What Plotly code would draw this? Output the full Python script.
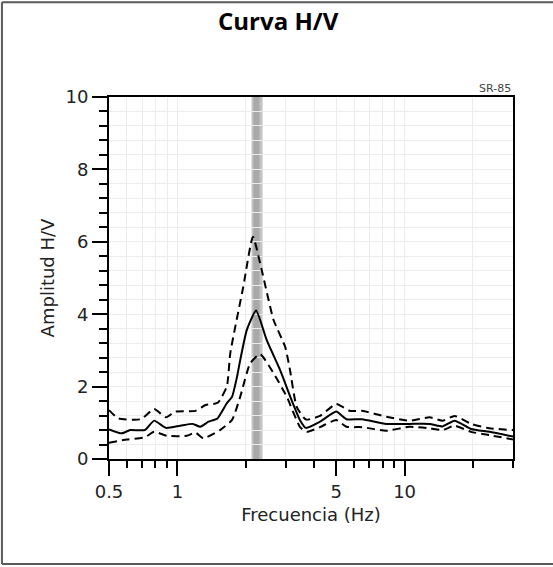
import plotly.graph_objects as go

# curva H/V promedio
freq_mean = [0.5, 0.57, 0.62, 0.72, 0.79, 0.89, 1.03, 1.17, 1.26, 1.37, 1.5, 1.65, 1.74, 1.83,
             1.89, 2.02, 2.22, 2.47, 2.83, 3.18, 3.46, 3.68, 4.24, 5.0, 5.55, 6.5, 8.3, 10.5,
             12.9, 14.7, 16.6, 19.6, 23.6, 30]
amp_mean = [0.82, 0.71, 0.80, 0.80, 1.06, 0.86, 0.92, 0.97, 0.89, 1.03, 1.12, 1.54, 1.72, 2.27,
            2.73, 3.56, 4.10, 3.29, 2.46, 1.63, 1.08, 0.86, 1.03, 1.31, 1.10, 1.10, 0.97, 0.97,
            0.97, 0.90, 1.06, 0.83, 0.75, 0.62]

# desviacion superior
freq_hi = [0.5, 0.55, 0.69, 0.79, 0.89, 0.98, 1.2, 1.33, 1.44, 1.51, 1.65, 1.71, 1.95, 2.15,
           2.35, 2.65, 2.98, 3.13, 3.35, 3.68, 4.24, 5.0, 5.74, 6.5, 8.3, 10.5, 12.9, 14.7,
           16.6, 19.6, 23.6, 30]
amp_hi = [1.35, 1.12, 1.10, 1.38, 1.15, 1.31, 1.33, 1.49, 1.52, 1.56, 2.0, 2.93, 4.76, 6.14,
          5.22, 3.84, 3.10, 2.46, 1.44, 1.09, 1.19, 1.52, 1.33, 1.33, 1.17, 1.06, 1.15, 1.06,
          1.19, 0.97, 0.85, 0.80]

# desviacion inferior
freq_lo = [0.5, 0.6, 0.72, 0.79, 0.9, 1.1, 1.2, 1.3, 1.54, 1.74, 1.89, 2.09, 2.31, 2.65,
           3.03, 3.46, 3.71, 4.24, 5.0, 5.55, 6.5, 8.3, 10.5, 12.9, 14.7, 16.6, 19.6, 23.6, 30]
amp_lo = [0.45, 0.54, 0.60, 0.75, 0.64, 0.64, 0.73, 0.57, 0.80, 1.08, 1.72, 2.64, 2.90, 2.37,
          1.72, 0.89, 0.75, 0.88, 1.08, 0.89, 0.88, 0.78, 0.89, 0.85, 0.80, 0.92, 0.75, 0.66, 0.54]

# frecuencia fundamental (banda gris)
f0_band = [2.12, 2.37]
f0_core = [2.16, 2.30]

x_ticks = [0.5, 1, 5, 10]
x_minor = [0.6, 0.7, 0.8, 0.9, 2, 3, 4, 6, 7, 8, 9, 20, 30]

fig = go.Figure()

fig.add_shape(type="rect", xref="x", yref="paper", x0=f0_band[0], x1=f0_band[1], y0=0, y1=1,
              fillcolor="#c4c4c4", line_width=0, layer="between")
fig.add_shape(type="rect", xref="x", yref="paper", x0=f0_core[0], x1=f0_core[1], y0=0, y1=1,
              fillcolor="#a9a9a9", line_width=0, layer="between")

dash = dict(color="black", width=2, dash="8px,5px")
fig.add_trace(go.Scatter(x=freq_hi, y=amp_hi, mode="lines", line=dict(**dash, shape="spline", smoothing=0.5)))
fig.add_trace(go.Scatter(x=freq_lo, y=amp_lo, mode="lines", line=dict(**dash, shape="spline", smoothing=0.5)))
fig.add_trace(go.Scatter(x=freq_mean, y=amp_mean, mode="lines",
                         line=dict(color="black", width=2, shape="spline", smoothing=0.5)))

# marco exterior de la imagen (izquierda, arriba, abajo)
frame = dict(color="#5a5a5a", width=2)
fig.add_shape(type="line", xref="paper", yref="paper", x0=-0.265, x1=-0.265, y0=-0.29, y1=1.262, line=frame)
fig.add_shape(type="line", xref="paper", yref="paper", x0=-0.265, x1=1.2, y0=1.262, y1=1.262, line=frame)
fig.add_shape(type="line", xref="paper", yref="paper", x0=-0.265, x1=1.2, y0=-0.29, y1=-0.29, line=frame)

fig.add_annotation(text="SR-85", xref="paper", yref="paper", x=1.0, y=1.0, xanchor="right",
                   yanchor="bottom", showarrow=False, font=dict(size=11, color="#444"))

fig.update_layout(
    width=553, height=567,
    margin=dict(l=109, r=40, t=97, b=108),
    plot_bgcolor="white", paper_bgcolor="white",
    showlegend=False,
    font=dict(family="DejaVu Sans", color="#222"),
    title=dict(text="<b>Curva H/V</b>", x=0.503, xanchor="center", y=0.962, yanchor="middle",
               font=dict(family="Open Sans", size=24, color="black")),
)

fig.update_xaxes(
    type="log", range=[-0.30103, 1.47712],
    tickmode="array", tickvals=x_ticks, ticktext=["0.5", "1", "5", "10"],
    ticks="outside", ticklen=15, tickwidth=2, tickcolor="black",
    showline=True, linecolor="black", linewidth=2, mirror=True,
    showgrid=True, gridcolor="#ececec", gridwidth=1,
    minor=dict(tickmode="array", tickvals=x_minor, ticks="outside", ticklen=7, tickwidth=2,
               tickcolor="black", showgrid=True, gridcolor="#ececec"),
    tickfont=dict(size=18), title=dict(text="Frecuencia (Hz)", font=dict(size=18), standoff=8),
    zeroline=False,
)
fig.update_yaxes(
    range=[0, 10], tickmode="linear", tick0=0, dtick=2,
    ticks="outside", ticklen=15, tickwidth=2, tickcolor="black",
    showline=True, linecolor="black", linewidth=2, mirror=True,
    showgrid=True, gridcolor="#ececec", gridwidth=1,
    minor=dict(dtick=0.4, tick0=0, ticks="outside", ticklen=8, tickwidth=2,
               tickcolor="black", showgrid=True, gridcolor="#ececec"),
    tickfont=dict(size=18), title=dict(text="Amplitud H/V", font=dict(size=18), standoff=6),
    zeroline=False,
)

# sin margen del navegador para que la figura quede en la esquina
fig.write_html("out.html", config={"displayModeBar": False},
               post_script="document.body.style.margin='0px';")
